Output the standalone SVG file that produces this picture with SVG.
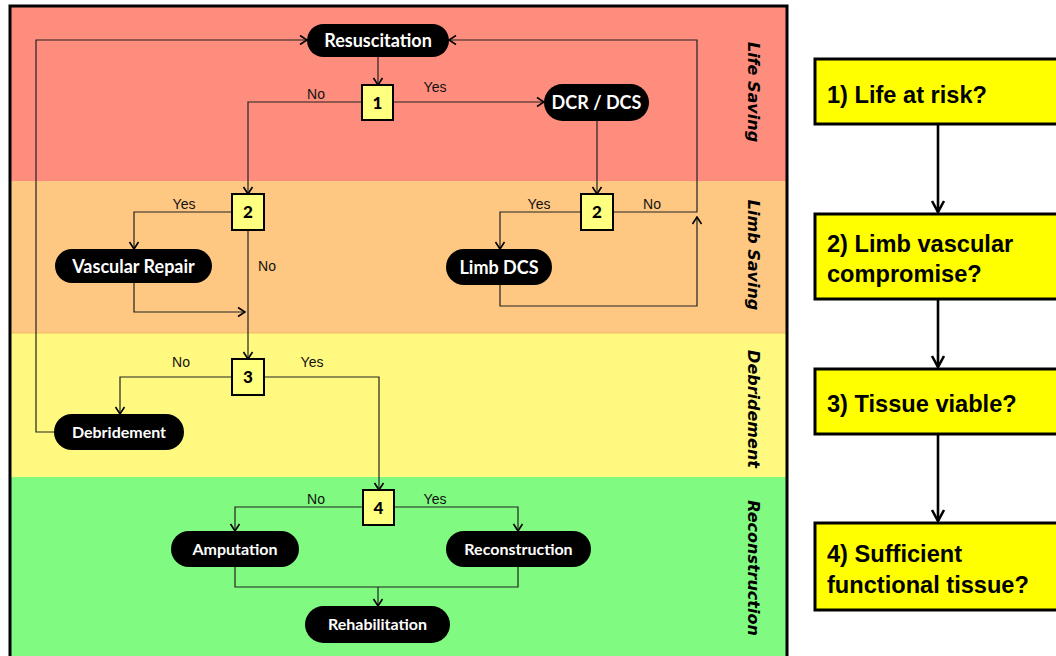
<svg xmlns="http://www.w3.org/2000/svg" width="1056" height="656" viewBox="0 0 1056 656">
  <defs>
    <marker id="arr" viewBox="-9 -6 10 12" refX="0" refY="0" markerWidth="10" markerHeight="12" markerUnits="userSpaceOnUse" orient="auto">
      <path d="M-7,-4.5 L0,0 L-7,4.5" fill="none" stroke="#000" stroke-width="1.6"/>
    </marker>
    <marker id="arrBig" viewBox="-13 -8 14 16" refX="0" refY="0" markerWidth="14" markerHeight="16" markerUnits="userSpaceOnUse" orient="auto">
      <path d="M-11,-6 L0,0 L-11,6" fill="none" stroke="#000" stroke-width="2.6"/>
    </marker>
  </defs>
  <style>
    .pill rect { fill: #000; }
    .pill text { fill: #fff; font-family: Lato, "Liberation Sans", sans-serif; font-weight: bold; text-anchor: middle; }
    .big text { font-size: 18px; }
    .small text { font-size: 16px; }
    .dec rect { fill: #ffff80; stroke: #000; stroke-width: 2; }
    .dec text { font-family: Lato, "Liberation Sans", sans-serif; font-weight: 900; font-size: 17px; text-anchor: middle; fill: #000; }
    .lbl { font-family: "Liberation Sans", Arial, sans-serif; font-size: 14px; text-anchor: middle; fill: #111; }
    .band { font-family: "DejaVu Sans", Verdana, sans-serif; font-weight: bold; font-style: italic; font-size: 16px; text-anchor: middle; fill: #000; }
    .conn path { fill: none; stroke: #222; stroke-width: 1.2; }
    .q rect { fill: #ffff00; stroke: #000; stroke-width: 3; }
    .q text { font-family: "Liberation Sans", Arial, sans-serif; font-weight: bold; font-size: 23.6px; fill: #000; }
    .qconn path { fill: none; stroke: #000; stroke-width: 2.6; }
  </style>

  <rect x="0" y="0" width="1056" height="656" fill="#fff"/>

  <!-- phase bands -->
  <g id="bands">
    <rect x="10" y="6" width="777" height="175" fill="#ff8d7d"/>
    <rect x="10" y="181" width="777" height="152" fill="#ffc882"/>
    <rect x="10" y="333" width="777" height="144" fill="#fffa7f"/>
    <rect x="10" y="477" width="777" height="185" fill="#80fa80"/>
    <line x1="10" y1="333" x2="787" y2="333" stroke="#f5b860" stroke-width="1"/>
    <rect x="10" y="6" width="777" height="660" fill="none" stroke="#000" stroke-width="3"/>
    <text class="band" transform="translate(748,92) rotate(90)">Life Saving</text>
    <text class="band" transform="translate(748,255) rotate(90)">Limb Saving</text>
    <text class="band" transform="translate(748,409) rotate(90)">Debridement</text>
    <text class="band" transform="translate(748,568) rotate(90)">Reconstruction</text>
  </g>

  <!-- connectors -->
  <g id="connectors" class="conn">
    <path d="M378,57 V85" marker-end="url(#arr)"/>
    <path d="M362,102 H248 V194" marker-end="url(#arr)"/>
    <path d="M393,102 H544" marker-end="url(#arr)"/>
    <path d="M597,121 V194" marker-end="url(#arr)"/>
    <path d="M613,212 H697 V40 H449" marker-end="url(#arr)"/>
    <path d="M581,212 H500 V249" marker-end="url(#arr)"/>
    <path d="M500,285 V306 H697 V217" marker-end="url(#arr)"/>
    <path d="M232,212 H134 V249" marker-end="url(#arr)"/>
    <path d="M248,230 V359" marker-end="url(#arr)"/>
    <path d="M134,283 V312 H245" marker-end="url(#arr)"/>
    <path d="M232,377 H120 V414" marker-end="url(#arr)"/>
    <path d="M264,377 H379 V490" marker-end="url(#arr)"/>
    <path d="M54,432 H36 V40 H307" marker-end="url(#arr)"/>
    <path d="M363,507 H235 V531" marker-end="url(#arr)"/>
    <path d="M394,507 H518 V531" marker-end="url(#arr)"/>
    <path d="M235,567 V587 H518 V567"/>
    <path d="M378,587 V606" marker-end="url(#arr)"/>
  </g>

  <!-- branch labels -->
  <g id="labels">
    <text class="lbl" x="316" y="99">No</text>
    <text class="lbl" x="435" y="92">Yes</text>
    <text class="lbl" x="184" y="209">Yes</text>
    <text class="lbl" x="539" y="209">Yes</text>
    <text class="lbl" x="652" y="209">No</text>
    <text class="lbl" x="267" y="271">No</text>
    <text class="lbl" x="181" y="367">No</text>
    <text class="lbl" x="312" y="367">Yes</text>
    <text class="lbl" x="316" y="504">No</text>
    <text class="lbl" x="435" y="504">Yes</text>
  </g>

  <!-- process nodes -->
  <g id="resuscitation" class="pill big"><rect x="307" y="24" width="142" height="33" rx="16.5"/><text x="378" y="47">Resuscitation</text></g>
  <g id="dcr-dcs" class="pill big"><rect x="544" y="84" width="105" height="37" rx="18.5"/><text x="596.5" y="109">DCR / DCS</text></g>
  <g id="vascular-repair" class="pill big"><rect x="55" y="249" width="157" height="34" rx="17"/><text x="133.5" y="272.5">Vascular Repair</text></g>
  <g id="limb-dcs" class="pill big"><rect x="446" y="249" width="106" height="36" rx="18"/><text x="499" y="273.5">Limb DCS</text></g>
  <g id="debridement" class="pill small"><rect x="54" y="414" width="130" height="36" rx="18"/><text x="119" y="437.5">Debridement</text></g>
  <g id="amputation" class="pill small"><rect x="171" y="531" width="128" height="36" rx="18"/><text x="235" y="554.5">Amputation</text></g>
  <g id="reconstruction" class="pill small"><rect x="446" y="531" width="145" height="36" rx="18"/><text x="518.5" y="554.5">Reconstruction</text></g>
  <g id="rehabilitation" class="pill small"><rect x="305" y="606" width="145" height="37" rx="18.5"/><text x="377.5" y="630">Rehabilitation</text></g>

  <!-- decision nodes -->
  <g id="decision-1" class="dec"><rect x="362" y="85" width="31" height="35"/><text x="377.5" y="108.5">1</text></g>
  <g id="decision-2a" class="dec"><rect x="232" y="194" width="32" height="36"/><text x="248" y="218">2</text></g>
  <g id="decision-2b" class="dec"><rect x="581" y="194" width="32" height="36"/><text x="597" y="218">2</text></g>
  <g id="decision-3" class="dec"><rect x="232" y="359" width="32" height="36"/><text x="248" y="383">3</text></g>
  <g id="decision-4" class="dec"><rect x="363" y="490" width="31" height="35"/><text x="378.5" y="513.5">4</text></g>

  <!-- question legend -->
  <g id="question-connectors" class="qconn">
    <path d="M938,124 V212" marker-end="url(#arrBig)"/>
    <path d="M938,299 V367" marker-end="url(#arrBig)"/>
    <path d="M938,434 V521" marker-end="url(#arrBig)"/>
  </g>
  <g id="q1" class="q"><rect x="815" y="59" width="260" height="65"/><text x="827" y="103">1) Life at risk?</text></g>
  <g id="q2" class="q"><rect x="815" y="214" width="260" height="85"/><text x="827" y="252">2) Limb vascular</text><text x="827" y="282">compromise?</text></g>
  <g id="q3" class="q"><rect x="815" y="369" width="260" height="65"/><text x="827" y="412">3) Tissue viable?</text></g>
  <g id="q4" class="q"><rect x="815" y="523" width="260" height="87"/><text x="827" y="562">4) Sufficient</text><text x="827" y="593">functional tissue?</text></g>
</svg>
